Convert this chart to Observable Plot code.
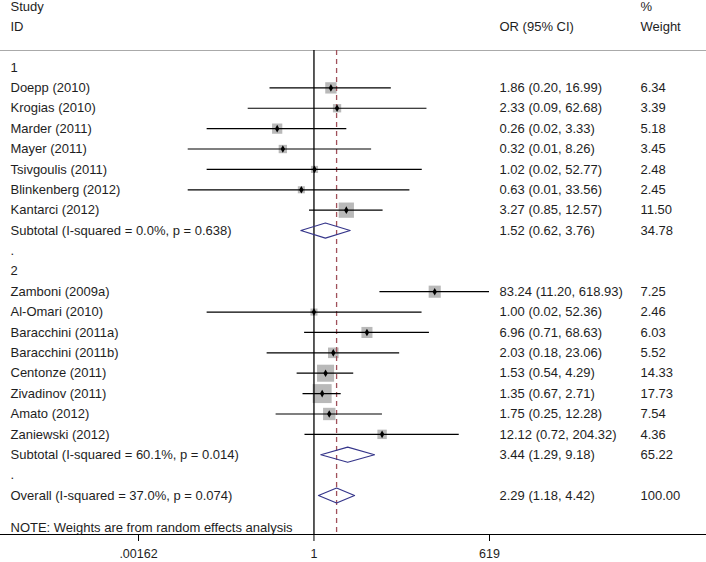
<!DOCTYPE html>
<html>
<head>
<meta charset="utf-8">
<script src="https://cdn.jsdelivr.net/npm/d3@7"></script>
<script src="https://cdn.jsdelivr.net/npm/@observablehq/plot@0.6"></script>
<style>
  html, body { margin: 0; padding: 0; background: #fff; }
  #chart svg { display: block; }
</style>
</head>
<body>
<div id="chart"></div>
<script>
// ---- Data ----
const group1Names = ["Doepp (2010)", "Krogias (2010)", "Marder (2011)", "Mayer (2011)", "Tsivgoulis (2011)", "Blinkenberg (2012)", "Kantarci (2012)"];
const group1OR = [1.86, 2.33, 0.26, 0.32, 1.02, 0.63, 3.27];
const group1Lo = [0.20, 0.09, 0.02, 0.01, 0.02, 0.01, 0.85];
const group1Hi = [16.99, 62.68, 3.33, 8.26, 52.77, 33.56, 12.57];
const group1Weight = [6.34, 3.39, 5.18, 3.45, 2.48, 2.45, 11.50];

const group2Names = ["Zamboni (2009a)", "Al-Omari (2010)", "Baracchini (2011a)", "Baracchini (2011b)", "Centonze (2011)", "Zivadinov (2011)", "Amato (2012)", "Zaniewski (2012)"];
const group2OR = [83.24, 1.00, 6.96, 2.03, 1.53, 1.35, 1.75, 12.12];
const group2Lo = [11.20, 0.02, 0.71, 0.18, 0.54, 0.67, 0.25, 0.72];
const group2Hi = [618.93, 52.36, 68.63, 23.06, 4.29, 2.71, 12.28, 204.32];
const group2Weight = [7.25, 2.46, 6.03, 5.52, 14.33, 17.73, 7.54, 4.36];

const summaryNames = ["Subtotal (I-squared = 0.0%, p = 0.638)", "Subtotal (I-squared = 60.1%, p = 0.014)", "Overall (I-squared = 37.0%, p = 0.074)"];
const summaryOR = [1.52, 3.44, 2.29];
const summaryLo = [0.62, 1.29, 1.18];
const summaryHi = [3.76, 9.18, 4.42];
const summaryWeight = [34.78, 65.22, 100.00];

const groupLabels = ["1", "2"];
const headerLeft = ["Study", "ID"];
const headerCI = "OR (95% CI)";
const headerWeight = ["%", "Weight"];
const noteText = "NOTE: Weights are from random effects analysis";

const tickValues = [0.00162, 1, 619];
const tickLabels = [".00162", "1", "619"];

// ---- Build rows in display order ----
const rows = [];
function addStudies(names, or, lo, hi, w) {
  names.forEach((n, i) => rows.push({kind: "study", label: n, or: or[i], lo: lo[i], hi: hi[i], w: w[i]}));
}
function addSummary(i) {
  rows.push({kind: "summary", label: summaryNames[i], or: summaryOR[i], lo: summaryLo[i], hi: summaryHi[i], w: summaryWeight[i]});
}
rows.push({kind: "group", label: groupLabels[0]});
addStudies(group1Names, group1OR, group1Lo, group1Hi, group1Weight);
addSummary(0);
rows.push({kind: "group", label: "."});
rows.push({kind: "group", label: groupLabels[1]});
addStudies(group2Names, group2OR, group2Lo, group2Hi, group2Weight);
addSummary(1);
rows.push({kind: "group", label: "."});
addSummary(2);
rows.forEach((d, i) => d.row = i);

const studies = rows.filter(d => d.kind === "study");
const summaries = rows.filter(d => d.kind === "summary");
const withStats = rows.filter(d => d.kind !== "group");
const overall = summaries[summaries.length - 1];

const fmt = v => v.toFixed(2);
withStats.forEach(d => {
  d.ciText = `${fmt(d.or)} (${fmt(d.lo)}, ${fmt(d.hi)})`;
  d.wText = fmt(d.w);
});

const halfH = 0.37;
const diamondPts = summaries.flatMap((d, k) => [
  {id: k, x: d.lo, y: d.row},
  {id: k, x: d.or, y: d.row - halfH},
  {id: k, x: d.hi, y: d.row},
  {id: k, x: d.or, y: d.row + halfH},
  {id: k, x: d.lo, y: d.row}
]);

const headerRows = [
  {row: -3, left: headerLeft[0], w: headerWeight[0], ci: ""},
  {row: -2, left: headerLeft[1], w: headerWeight[1], ci: headerCI}
];
const ticks = tickValues.map((v, i) => ({v, label: tickLabels[i]}));

const txt = "#1e1e1e";
const chart = Plot.plot({
  width: 706,
  height: 562,
  marginTop: 50,
  marginBottom: 28,
  marginLeft: 0,
  marginRight: 0,
  style: {fontFamily: "'Liberation Sans', Arial, sans-serif", fontSize: "13px", color: txt, background: "#fff"},
  x: {type: "log", domain: [0.00162, 619], range: [138, 489]},
  y: {domain: [0, rows.length - 1], range: [67, 495], axis: null},
  r: {type: "sqrt", domain: [0, 100], range: [0, 25.4]},
  marks: [
    Plot.frame({anchor: "top", stroke: "#aaa", strokeWidth: 1.2}),
    Plot.frame({anchor: "bottom", stroke: "#000", strokeWidth: 1.2}),
    // weight boxes
    Plot.dot(studies, {x: "or", y: "row", r: "w", symbol: "square", fill: "#b9b9b9", stroke: null}),
    // null line
    Plot.ruleX([1], {stroke: "#000", strokeWidth: 1.3}),
    // overall effect dashed line
    Plot.ruleX([overall.or], {stroke: "#a0505a", strokeWidth: 1.3, strokeDasharray: "5,4"}),
    // CIs
    Plot.ruleY(studies, {y: "row", x1: "lo", x2: "hi", stroke: "#000", strokeWidth: 1.2}),
    // point estimates
    Plot.dot(studies, {x: "or", y: "row", symbol: "diamond", r: 2.3, fill: "#000", stroke: null}),
    // summary diamonds
    Plot.line(diamondPts, {x: "x", y: "y", z: "id", stroke: "#35358a", strokeWidth: 1.2, curve: "linear"}),
    // left labels
    Plot.text(rows, {y: "row", text: "label", frameAnchor: "left", dx: 10, textAnchor: "start", fill: txt}),
    Plot.text(withStats, {y: "row", text: "ciText", frameAnchor: "left", dx: 499, textAnchor: "start", fill: txt}),
    Plot.text(withStats, {y: "row", text: "wText", frameAnchor: "left", dx: 640, textAnchor: "start", fill: txt}),
    // headers
    Plot.text(headerRows, {y: "row", text: "left", frameAnchor: "left", dx: 10, textAnchor: "start", fill: txt}),
    Plot.text(headerRows, {y: "row", text: "ci", frameAnchor: "left", dx: 499, textAnchor: "start", fill: txt}),
    Plot.text(headerRows, {y: "row", text: "w", frameAnchor: "left", dx: 640, textAnchor: "start", fill: txt}),
    // note
    Plot.text([noteText], {text: d => d, frameAnchor: "bottom-left", dx: 10, dy: -7, textAnchor: "start", lineAnchor: "middle", fill: txt}),
    // axis ticks and labels
    Plot.axisX(tickValues, {tickFormat: () => "", tickSize: 7, stroke: "#000", label: null}),
    Plot.text(ticks, {x: "v", text: "label", frameAnchor: "bottom", dy: 19, lineAnchor: "middle", fontSize: 12.5, fill: txt})
  ]
});
document.getElementById("chart").appendChild(chart);
</script>
</body>
</html>
